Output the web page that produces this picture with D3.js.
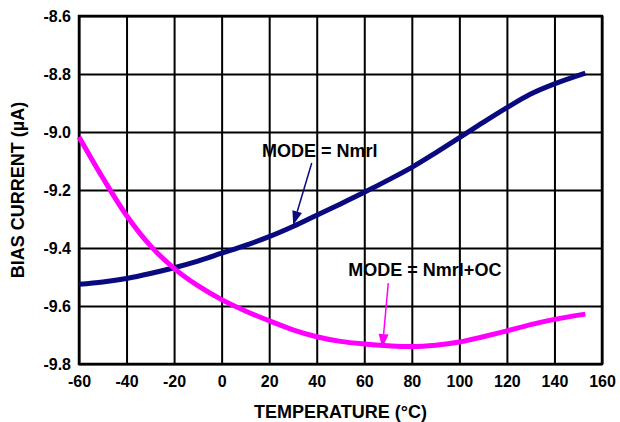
<!DOCTYPE html>
<html>
<head>
<meta charset="utf-8">
<script src="https://cdn.jsdelivr.net/npm/d3@7"></script>
<style>
  body { margin: 0; background: #fff; }
  text { font-family: Arial, "Liberation Sans", sans-serif; font-weight: bold; }
</style>
</head>
<body>
<svg id="chart"></svg>
<script>
const temps = [-60, -50, -40, -30, -20, -10, 0, 10, 20, 30, 40, 50, 60, 70, 80, 90, 100, 110, 120, 130, 140, 153]
const nmrl = [-9.525, -9.517, -9.505, -9.488, -9.468, -9.445, -9.418, -9.391, -9.361, -9.326, -9.287,
  -9.248, -9.208, -9.166, -9.122, -9.072, -9.020, -8.967, -8.916, -8.869, -8.834, -8.797]
const nmrlOC = [-9.017, -9.158, -9.288, -9.392, -9.470, -9.530, -9.578, -9.617, -9.651, -9.682, -9.706,
  -9.722, -9.731, -9.737, -9.740, -9.735, -9.724, -9.706, -9.686, -9.664, -9.646, -9.628]
const xTicks = [-60, -40, -20, 0, 20, 40, 60, 80, 100, 120, 140, 160]
const yTicks = [-8.6, -8.8, -9.0, -9.2, -9.4, -9.6, -9.8]

const WIDTH = 620
const HEIGHT = 422
const M = {top: 16, right: 18, bottom: 58, left: 79}
const W = WIDTH - M.left - M.right
const H = HEIGHT - M.top - M.bottom

const svg = d3.select('#chart').attr('width', WIDTH).attr('height', HEIGHT)
const g = svg.append('g').attr('transform', `translate(${M.left},${M.top})`)

const x = d3.scaleLinear().domain([-60, 160]).range([0, W])
const y = d3.scaleLinear().domain([-9.8, -8.6]).range([H, 0])

// grid
g.append('g')
  .call(d3.axisBottom(x).tickValues(xTicks).tickSize(-H).tickFormat(''))
  .attr('transform', `translate(0,${H})`)
  .call(a => a.select('.domain').remove())
  .selectAll('line').attr('stroke', '#000').attr('stroke-width', 2)
g.append('g')
  .call(d3.axisLeft(y).tickValues(yTicks).tickSize(-W).tickFormat(''))
  .call(a => a.select('.domain').remove())
  .selectAll('line').attr('stroke', '#000').attr('stroke-width', 2)

g.append('rect').attr('width', W).attr('height', H)
  .attr('fill', 'none').attr('stroke', '#000').attr('stroke-width', 2.5)

// tick labels (plain hyphen as minus, like the original)
const hy = f => d => f(d).replace('\u2212', '-')
g.append('g')
  .attr('transform', `translate(0,${H})`)
  .call(d3.axisBottom(x).tickValues(xTicks).tickSize(0).tickPadding(12).tickFormat(hy(d3.format('d'))))
  .call(a => a.select('.domain').remove())
  .selectAll('text').attr('font-size', 16).attr('fill', '#000')
  .attr('font-family', 'Arial, "Liberation Sans", sans-serif').attr('font-weight', 'bold')
g.append('g')
  .call(d3.axisLeft(y).tickValues(yTicks).tickSize(0).tickPadding(8).tickFormat(hy(d3.format('.1f'))))
  .call(a => a.select('.domain').remove())
  .selectAll('text').attr('font-size', 16).attr('fill', '#000')
  .attr('font-family', 'Arial, "Liberation Sans", sans-serif').attr('font-weight', 'bold')

// curves
const line = d3.line().x(d => x(d[0])).y(d => y(d[1])).curve(d3.curveCatmullRom)
const series = [
  {vals: nmrl, color: '#0a0a80'},
  {vals: nmrlOC, color: '#ff00ff'}
]
for (const s of series) {
  g.append('path')
    .datum(temps.map((t, i) => [t, s.vals[i]]))
    .attr('d', line)
    .attr('fill', 'none')
    .attr('stroke', s.color)
    .attr('stroke-width', 5)
}

// annotations
const notes = [
  {label: 'MODE = Nmrl', tx: 17, ty: -9.086, from: [37.9, -9.107], to: [30.1, -9.321], color: '#0a0a80'},
  {label: 'MODE = Nmrl+OC', tx: 53.3, ty: -9.497, from: [70.1, -9.521], to: [67.6, -9.745], color: '#ff00ff'}
]
for (const n of notes) {
  g.append('text').attr('x', x(n.tx)).attr('y', y(n.ty))
    .attr('font-size', 18).attr('fill', '#000').text(n.label)
  const x1 = x(n.from[0]), y1 = y(n.from[1]), x2 = x(n.to[0]), y2 = y(n.to[1])
  const ang = Math.atan2(y2 - y1, x2 - x1)
  const len = 14, hw = 5
  const bx = x2 - len * Math.cos(ang), by = y2 - len * Math.sin(ang)
  g.append('line').attr('x1', x1).attr('y1', y1).attr('x2', bx).attr('y2', by)
    .attr('stroke', n.color).attr('stroke-width', 1.5)
  g.append('polygon')
    .attr('points', [
      [x2, y2],
      [bx + hw * Math.sin(ang), by - hw * Math.cos(ang)],
      [bx - hw * Math.sin(ang), by + hw * Math.cos(ang)]
    ].map(p => p.join(',')).join(' '))
    .attr('fill', n.color)
}

// axis titles
svg.append('text')
  .attr('x', M.left + x(50)).attr('y', 418)
  .attr('text-anchor', 'middle').attr('font-size', 18).attr('fill', '#000')
  .text('TEMPERATURE (°C)')
svg.append('text')
  .attr('transform', `translate(24,${M.top + H / 2}) rotate(-90)`)
  .attr('text-anchor', 'middle').attr('font-size', 18).attr('fill', '#000')
  .text('BIAS CURRENT (µA)')
</script>
</body>
</html>
